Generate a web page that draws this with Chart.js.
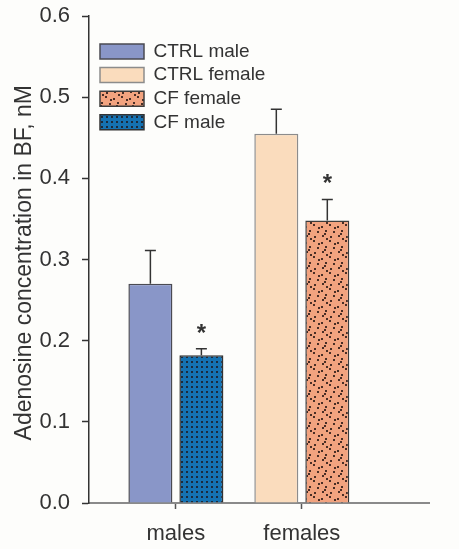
<!DOCTYPE html>
<html>
<head>
<meta charset="utf-8">
<title>Adenosine concentration in BF</title>
<script src="https://cdn.jsdelivr.net/npm/chart.js@4.4.1/dist/chart.umd.min.js"></script>
<style>
  html, body { margin: 0; padding: 0; background: #fdfdfb; }
  #wrap { width: 459px; height: 549px; position: relative; }
</style>
</head>
<body>
<div id="wrap"><canvas id="chart"></canvas></div>
<script>
// Group labels on the x axis
const CATEGORIES = ['males', 'females'];

// Series names (legend order)
const SERIES = ['CTRL male', 'CTRL female', 'CF female', 'CF male'];

// Mean adenosine concentration (nM) per group, one value per category
const CTRL_MALE   = [0.270, null];
const CTRL_FEMALE = [null, 0.455];
const CF_FEMALE   = [null, 0.348];
const CF_MALE     = [0.182, null];

// Standard errors (upper whiskers)
const CTRL_MALE_SE   = [0.041, null];
const CTRL_FEMALE_SE = [null, 0.030];
const CF_FEMALE_SE   = [null, 0.026];
const CF_MALE_SE     = [0.008, null];

// Series flagged as significantly different from control (*)
const SIGNIFICANT = [false, false, true, true];

// Value-axis ticks
const Y_TICKS = [0, 0.1, 0.2, 0.3, 0.4, 0.5, 0.6];
const Y_TICK_LABELS = ['0.0', '0.1', '0.2', '0.3', '0.4', '0.5', '0.6'];

const FONT = "'Liberation Sans', Arial, Helvetica, sans-serif";
const INK = '#333333';

// Dotted fill textures
function dotPattern(base, dot, size, dots, d) {
  const c = document.createElement('canvas');
  c.width = size; c.height = size;
  const g = c.getContext('2d');
  g.fillStyle = base;
  g.fillRect(0, 0, size, size);
  g.fillStyle = dot;
  dots.forEach(([px, py]) => g.fillRect(px, py, d, d));
  return g.createPattern(c, 'repeat');
}
const ctx = document.getElementById('chart').getContext('2d');
const cfMaleFill = dotPattern('#1572b2', '#1b2a3c', 5, [[1, 1]], 2);
const cfFemaleFill = dotPattern('#f2a37f', '#4a2e26', 16,
  [[1, 2], [9, 0], [5, 6], [13, 7], [2, 11], [10, 12], [6, 14], [14, 3], [4, 9]], 2);

function toPoints(values) {
  return values.map((v, i) => ({ x: i, y: v }));
}

const datasets = [
  { label: SERIES[0], data: toPoints(CTRL_MALE), se: CTRL_MALE_SE, stack: 'CTRL',
    backgroundColor: '#8996c8', borderColor: '#4a4a52' },
  { label: SERIES[1], data: toPoints(CTRL_FEMALE), se: CTRL_FEMALE_SE, stack: 'CTRL',
    backgroundColor: '#fadcbd', borderColor: '#8c8c8c' },
  { label: SERIES[2], data: toPoints(CF_FEMALE), se: CF_FEMALE_SE, stack: 'CF',
    backgroundColor: cfFemaleFill, borderColor: '#3c3c3c' },
  { label: SERIES[3], data: toPoints(CF_MALE), se: CF_MALE_SE, stack: 'CF',
    backgroundColor: cfMaleFill, borderColor: '#333333' }
].map((d, k) => Object.assign(d, {
  sig: SIGNIFICANT[k],
  borderWidth: 1.5,
  borderSkipped: 'start',
  categoryPercentage: 0.81,
  barPercentage: 0.863
}));

// Upper error whiskers and significance stars
const errorBars = {
  id: 'errorBars',
  afterDatasetsDraw(chart) {
    const c = chart.ctx;
    const y = chart.scales.y;
    chart.data.datasets.forEach((ds, di) => {
      const meta = chart.getDatasetMeta(di);
      meta.data.forEach((bar, i) => {
        const v = ds.data[i].y;
        const se = ds.se[i];
        if (v == null || se == null) return;
        const top = y.getPixelForValue(v + se);
        const base = y.getPixelForValue(v);
        c.save();
        c.strokeStyle = INK;
        c.lineWidth = 1.5;
        c.beginPath();
        c.moveTo(bar.x, base);
        c.lineTo(bar.x, top);
        c.moveTo(bar.x - 5.5, top);
        c.lineTo(bar.x + 5.5, top);
        c.stroke();
        if (ds.sig) {
          c.fillStyle = INK;
          c.font = 'bold 24px ' + FONT;
          c.textAlign = 'center';
          c.textBaseline = 'alphabetic';
          c.fillText('*', bar.x, top - 8);
        }
        c.restore();
      });
    });
  }
};

// Place the legend in the upper-left of the plot area
const legendPlacement = {
  id: 'legendPlacement',
  afterLayout(chart) {
    const lg = chart.legend;
    if (!lg) return;
    const pad = lg.options.labels.padding;
    const w = lg.width, h = lg.height;
    lg.left = 100 - pad;
    lg.top = 42 - pad;
    lg.right = lg.left + w;
    lg.bottom = lg.top + h;
    if (lg.adjustHitBoxes) lg.adjustHitBoxes();
  }
};

new Chart(ctx, {
  type: 'bar',
  data: { datasets },
  plugins: [errorBars, legendPlacement],
  options: {
    responsive: true,
    maintainAspectRatio: false,
    animation: false,
    layout: { padding: { top: 16, right: 30, left: 0, bottom: 0 } },
    plugins: {
      tooltip: { enabled: false },
      legend: {
        position: 'chartArea',
        align: 'start',
        labels: {
          boxWidth: 44,
          boxHeight: 15,
          padding: 4.6,
          color: INK,
          font: { family: FONT, size: 19 }
        }
      }
    },
    scales: {
      x: {
        type: 'linear',
        offset: false,
        min: -0.69,
        max: 2.01,
        afterBuildTicks(scale) {
          scale.ticks = CATEGORIES.map((c, i) => ({ value: i }));
        },
        afterFit(scale) {
          scale.height = 46;
          scale.paddingLeft = 0;
          scale.paddingRight = 0;
        },
        ticks: {
          color: INK,
          font: { family: FONT, size: 22 },
          padding: 12,
          maxRotation: 0,
          autoSkip: false,
          callback: (v) => CATEGORIES[v]
        },
        grid: {
          offset: false,
          drawOnChartArea: false,
          tickLength: 6,
          tickColor: '#555555',
          tickWidth: 1.5
        },
        border: { color: '#8a8a8a', width: 2 }
      },
      y: {
        min: 0,
        max: 0.6,
        afterBuildTicks(scale) {
          scale.ticks = Y_TICKS.map(v => ({ value: v }));
        },
        afterFit(scale) {
          scale.width = 89;
          scale.paddingTop = 0;
          scale.paddingBottom = 0;
        },
        ticks: {
          color: INK,
          font: { family: FONT, size: 22 },
          padding: 12,
          callback: (v, i) => Y_TICK_LABELS[i]
        },
        grid: {
          drawOnChartArea: false,
          tickLength: 7,
          tickColor: INK,
          tickWidth: 1.5
        },
        border: { color: INK, width: 1.5 },
        title: {
          display: true,
          text: 'Adenosine concentration in BF, nM ',
          color: INK,
          font: { family: FONT, size: 23 },
          padding: { top: 11, bottom: 0 }
        }
      }
    }
  }
});
</script>
</body>
</html>
